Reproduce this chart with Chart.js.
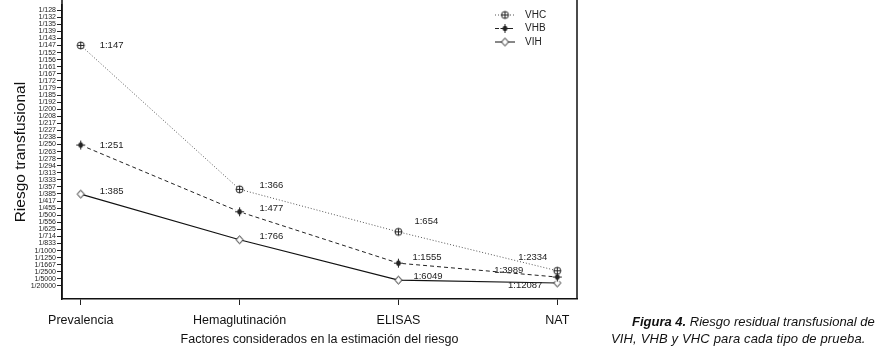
<!DOCTYPE html>
<html>
<head>
<meta charset="utf-8">
<script src="https://cdn.jsdelivr.net/npm/chart.js@4/dist/chart.umd.min.js"></script>
<style>
  body { margin: 0; background: #fff; }
  #wrap { position: relative; width: 884px; height: 352px; }
  .cap { position: absolute; white-space: nowrap; font: italic 13px "Liberation Sans", Arial, sans-serif; color: #111; }
  .cap b { font-weight: bold; }
</style>
</head>
<body>
<div id="wrap">
  <canvas id="myChart" width="884" height="352"></canvas>
  <div class="cap" style="left:632px; top:314px;"><b>Figura 4.</b> Riesgo residual transfusional de</div>
  <div class="cap" style="left:611px; top:331px; letter-spacing:0.15px;">VIH, VHB y VHC para cada tipo de prueba.</div>
</div>
<script>
// categories on the x axis
const categories = ["Prevalencia", "Hemaglutinación", "ELISAS", "NAT"];

// residual risk, read as 1:N (N per series)
const vhc = [147, 366, 654, 2334];
const vhb = [251, 477, 1555, 3989];
const vih = [385, 766, 6049, 12087];

// y tick labels, bottom to top (axis is linear in risk per 1000, step 0.2)
const yTickLabels = [
  "1/20000", "1/5000", "1/2500", "1/1667", "1/1250", "1/1000", "1/833", "1/714",
  "1/625", "1/556", "1/500", "1/455", "1/417", "1/385", "1/357", "1/333",
  "1/313", "1/294", "1/278", "1/263", "1/250", "1/238", "1/227", "1/217",
  "1/208", "1/200", "1/192", "1/185", "1/179", "1/172", "1/167", "1/161",
  "1/156", "1/152", "1/147", "1/143", "1/139", "1/135", "1/132", "1/128"
];
const yStep = 0.2;

const font = '"Liberation Sans", Arial, sans-serif';

// per 1000
let toPoints = (arr) => arr.map((n, i) => ({ x: i, y: 1000 / n, n: n }));

function makeMarker(kind) {
  const c = document.createElement("canvas");
  c.width = 11;
  c.height = 11;
  const g = c.getContext("2d");
  const m = 5.5;
  g.strokeStyle = "#222";
  g.fillStyle = "#fff";
  g.lineWidth = 1;
  if (kind === "circlePlus") {
    g.beginPath();
    g.arc(m, m, 3.5, 0, Math.PI * 2);
    g.fill();
    g.stroke();
    g.beginPath();
    g.moveTo(m - 3.5, m); g.lineTo(m + 3.5, m);
    g.moveTo(m, m - 3.5); g.lineTo(m, m + 3.5);
    g.stroke();
  } else if (kind === "plusDot") {
    g.beginPath();
    g.arc(m, m, 4.5, 0, Math.PI * 2);
    g.fill();
    g.fillStyle = "#222";
    g.beginPath();
    g.ellipse(m, m, 2.3, 2.8, 0, 0, Math.PI * 2);
    g.fill();
    g.beginPath();
    g.moveTo(m - 4.5, m); g.lineTo(m + 4.5, m);
    g.moveTo(m, m - 4.5); g.lineTo(m, m + 4.5);
    g.stroke();
  } else {
    g.beginPath();
    g.moveTo(m, m - 4); g.lineTo(m + 3.5, m); g.lineTo(m, m + 4); g.lineTo(m - 3.5, m);
    g.closePath();
    g.fill();
    g.stroke();
  }
  return c;
}

// where each "1:N" label sits relative to its point
const labelShift = {
  dx: [[19, 20, 16, -10], [19, 20, 14, -34], [19, 20, 15, -15]],
  dy: [[0, -4, -10, -13], [0, -3, -6, -7], [-3, -3, -4, 2]]
};

const pointLabels = {
  id: "pointLabels",
  afterDatasetsDraw(chart) {
    const c = chart.ctx;
    c.save();
    c.font = "9.5px " + font;
    c.fillStyle = "#222";
    c.textBaseline = "middle";
    chart.data.datasets.forEach((ds, di) => {
      chart.getDatasetMeta(di).data.forEach((pt, i) => {
        const dx = labelShift.dx[di][i];
        const dy = labelShift.dy[di][i];
        c.textAlign = dx < 0 ? "right" : "left";
        c.fillText("1:" + ds.data[i].n, pt.x + dx, pt.y + dy);
      });
    });
    c.restore();
  }
};

const frameAndLegend = {
  id: "frameAndLegend",
  afterDraw(chart) {
    const c = chart.ctx;
    const a = chart.chartArea;
    c.save();
    c.strokeStyle = "#111";
    c.lineWidth = 1.5;
    c.beginPath();
    c.moveTo(a.left, 0); c.lineTo(a.left, a.bottom);
    c.moveTo(a.right, 0); c.lineTo(a.right, a.bottom);
    c.stroke();

    // legend: line sample + marker + text
    c.font = "10px " + font;
    c.textBaseline = "middle";
    c.textAlign = "left";
    chart.data.datasets.forEach((ds, i) => {
      const y = 15 + i * 13.5;
      c.strokeStyle = ds.borderColor;
      c.lineWidth = 1;
      c.setLineDash(ds.borderDash || []);
      c.beginPath();
      c.moveTo(495, y); c.lineTo(515, y);
      c.stroke();
      c.setLineDash([]);
      const img = ds.pointStyle;
      c.drawImage(img, 505 - img.width / 2, y - img.height / 2);
      c.fillStyle = "#222";
      c.fillText(ds.label, 525, y);
    });
    c.restore();
  }
};

const ctx = document.getElementById("myChart").getContext("2d");

const riskChart = new Chart(ctx, {
  type: "line",
  data: {
    datasets: [
      {
        label: "VHC",
        data: toPoints(vhc),
        borderColor: "#555",
        borderWidth: 1,
        borderDash: [1, 2],
        pointStyle: makeMarker("circlePlus"),
      },
      {
        label: "VHB",
        data: toPoints(vhb),
        borderColor: "#222",
        borderWidth: 1,
        borderDash: [4, 3],
        pointStyle: makeMarker("plusDot"),
      },
      {
        label: "VIH",
        data: toPoints(vih),
        borderColor: "#111",
        borderWidth: 1.2,
        pointStyle: makeMarker("diamond"),
      },
    ],
  },
  options: {
    responsive: false,
    animation: false,
    layout: { padding: { left: 0, top: 0, right: 307, bottom: 0 } },
    plugins: {
      legend: { display: false },
      tooltip: { enabled: false },
    },
    scales: {
      x: {
        type: "linear",
        min: -0.1177,
        max: 3.124,
        afterBuildTicks: (scale) => {
          scale.ticks = categories.map((c, i) => ({ value: i }));
        },
        afterFit: (scale) => {
          scale.height = 53;
        },
        ticks: {
          autoSkip: false,
          maxRotation: 0,
          padding: 8,
          color: "#111",
          font: { family: font, size: 12.5 },
          callback: (v, i) => categories[i],
        },
        grid: { drawOnChartArea: false, tickLength: 6, color: "#222", tickWidth: 1 },
        border: { color: "#111", width: 1.5 },
        title: {
          display: true,
          text: "Factores considerados en la estimación del riesgo",
          color: "#111",
          font: { family: font, size: 12.5 },
          padding: { top: 0, bottom: 5 },
        },
      },
      y: {
        type: "linear",
        min: -0.37,
        max: 7.94,
        afterBuildTicks: (scale) => {
          scale.ticks = yTickLabels.map((l, i) => ({ value: i * yStep }));
        },
        afterFit: (scale) => {
          scale.width = 62;
        },
        ticks: {
          autoSkip: false,
          padding: 1,
          color: "#222",
          font: { family: font, size: 7 },
          callback: (v, i) => yTickLabels[i],
        },
        grid: { drawOnChartArea: false, tickLength: 5, color: "#222", tickWidth: 1 },
        border: { color: "#111", width: 1.5 },
        title: {
          display: true,
          text: "Riesgo transfusional",
          color: "#111",
          font: { family: font, size: 15.5 },
          padding: { top: 11, bottom: 0 },
        },
      },
    },
  },
  plugins: [pointLabels, frameAndLegend],
});
</script>
</body>
</html>
